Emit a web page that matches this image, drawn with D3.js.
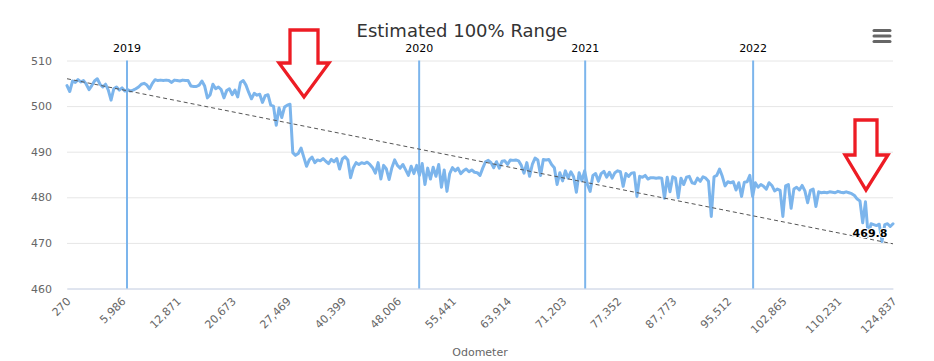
<!DOCTYPE html>
<html><head><meta charset="utf-8">
<script src="https://cdn.jsdelivr.net/npm/d3@7"></script>
<style>body{margin:0;background:#fff;} svg{display:block;overflow:hidden}</style>
</head><body><svg id="c" width="934" height="361"></svg>
<script>
const rangeValues = [
504.5,503.2,505.5,505.2,505.8,505.3,505.6,504.8,503.6,504.5,505.5,506,504.8,504.2,504.8,503.5,501.3,503.8,504.2,503.5,
504,503.3,503.6,503.3,503.5,503.8,504.2,504.8,505,504.6,503.8,505,505.8,505.6,505.7,505.6,505.7,505.6,505.2,505.7,
505.6,505.5,505.7,505.6,505.6,504.4,504.3,504.3,504.6,505.5,504.4,501.8,502.5,504.8,503.8,504.2,503.6,501.8,503.4,503.8,
502.5,503.5,502,505.2,505.6,504.6,503,501.6,502.8,502.4,502.6,500.8,502.3,502.5,500.2,500,495.8,499.6,497.5,499.8,
500.2,500.4,489.8,489.2,489.6,490.8,488.8,486.8,488.2,488.8,487.6,488.2,488,488.5,487.9,487.4,488.3,487.8,488.5,486.2,
488.4,488.9,488.2,484.3,486.5,487.6,487.2,487.6,487.4,487.7,487.2,486.5,485.3,487.6,484,487,486.2,483.9,486.5,488.2,
487,486.4,487.2,486,484.8,486.8,485.2,487,484.8,487.4,482.8,486.4,484,486.6,484.6,487.2,482.2,486,481.3,485.2,
486.5,485.8,486.4,485.2,485.8,486.2,485.6,486,485.5,485.4,484.8,486.4,487.8,488.1,487.6,486.5,487.8,486.4,487.9,488,
487.2,488.2,488.1,488.2,488,487,485.3,487.6,484.6,487.2,488.6,488.2,484.8,488.3,488.2,488.3,487.2,486.5,482.8,485.4,
483.6,485.8,484.2,485.6,484.5,481.1,485.4,483.6,485.8,482.8,481.3,484.8,485.2,483.5,485.2,485.7,484.4,485.5,484.2,485.4,
485.8,485.6,482.4,485.2,484.6,485.3,485.4,480.2,484.6,484.4,484.8,484,484.3,484.3,484.2,484.3,484.2,479.8,484.4,481.2,
484.5,484.2,479.9,484.2,482.8,484.4,484.6,483.2,483,484.2,483.5,484.5,484.2,483.5,475.8,484.5,484.8,486.2,484.6,482.5,
483.4,483.2,483.4,481.6,483.2,480.2,483.3,483.4,484.8,480.2,483.2,482.2,482.8,482.4,481.8,483.2,482.6,481.4,481.8,481.5,
475.8,482.5,482.8,477.6,481.8,482.2,481.6,482.6,481.4,478.8,481.5,481.8,478,481.2,481,481.1,481,481.2,481.1,481,
481.3,481.1,481,481.2,481,480.8,480.4,479.6,479.2,474.4,479,471.4,474.2,474,473.8,474.1,470.3,474,474.2,473.6,474.2
];
const trendValues = [506.0, 469.8];
const odometerLabels = ["270","5,986","12,871","20,673","27,469","40,399","48,006","55,441","63,914","71,203","77,352","87,773","95,512","102,865","110,231","124,837"];
const yearLabels = ["2019","2020","2021","2022"];
const yearIdx = [21.8, 127.9, 188.2, 249.2];
const yTicks = [460,470,480,490,500,510];
const titleText = "Estimated 100% Range";
const xTitle = "Odometer";

const FONT = "'DejaVu Sans', Verdana, sans-serif";
const svg = d3.select("#c").style("font-family", FONT);
const L = 67, R = 893, T = 60.5, B = 288.5;
const n = rangeValues.length;
const x = d3.scaleLinear().domain([0, n - 1]).range([L, R]);
const y = d3.scaleLinear().domain([460, 510]).range([B, T]);

// title
svg.append("text").attr("x", 462).attr("y", 37).attr("text-anchor", "middle")
  .attr("fill", "#333").attr("font-size", 18).text(titleText);

// y axis + grid
const ya = svg.append("g").attr("transform", `translate(${L},0)`)
  .call(d3.axisLeft(y).tickValues(yTicks).tickSize(-(R - L)).tickPadding(15).tickFormat(d3.format("d")));
ya.select(".domain").remove();
ya.selectAll(".tick line").attr("stroke", "#e6e6e6");
ya.selectAll(".tick text").attr("fill", "#666").attr("font-size", 11).attr("font-family", FONT);

// x axis
const tickIdx = odometerLabels.map((d, i) => i * 20);
const xa = svg.append("g").attr("transform", `translate(0,${B})`)
  .call(d3.axisBottom(x).tickValues(tickIdx).tickSize(0).tickFormat((d, i) => odometerLabels[i]));
xa.select(".domain").attr("stroke", "#ccd6eb");
xa.selectAll(".tick text").attr("fill", "#666").attr("font-size", 11).attr("font-family", FONT)
  .attr("text-anchor", "end").attr("x", 4).attr("y", 13.5).attr("dy", 0)
  .attr("transform", "rotate(-45,4,13.5)");
svg.append("text").attr("x", (L + R) / 2).attr("y", 356).attr("text-anchor", "middle")
  .attr("fill", "#666").attr("font-size", 11).text(xTitle);

// year plot lines
yearIdx.forEach((v, i) => {
  svg.append("line").attr("x1", x(v)).attr("x2", x(v)).attr("y1", T).attr("y2", B)
    .attr("stroke", "#7cb5ec").attr("stroke-width", 2);
  svg.append("text").attr("x", x(v)).attr("y", 52).attr("text-anchor", "middle")
    .attr("fill", "#000").attr("font-size", 11).text(yearLabels[i]);
});

// series
const line = d3.line().x((d, i) => x(i)).y(d => y(d));
svg.append("path").datum(rangeValues).attr("d", line).attr("fill", "none")
  .attr("stroke", "#7cb5ec").attr("stroke-width", 3).attr("stroke-linejoin", "round").attr("stroke-linecap", "round");

// trend
const trendIdx = [0, n - 1];
svg.append("path").datum(trendValues)
  .attr("d", d3.line().x((d, i) => x(trendIdx[i])).y(d => y(d)))
  .attr("fill", "none").attr("stroke", "#555").attr("stroke-width", 1).attr("stroke-dasharray", "4,3");
svg.append("text").attr("x", x(n - 1) - 23).attr("y", y(trendValues[1]) - 7)
  .attr("text-anchor", "middle").attr("font-size", 11).attr("font-weight", "bold")
  .attr("fill", "#000").attr("stroke", "#fff").attr("stroke-width", 2).attr("paint-order", "stroke")
  .text(d3.format(".1f")(trendValues[1]));

// menu icon
[30.5, 36, 41.5].forEach(yy => svg.append("line").attr("x1", 874).attr("x2", 890).attr("y1", yy).attr("y2", yy)
  .attr("stroke", "#666").attr("stroke-width", 3).attr("stroke-linecap", "round"));

// annotation arrows
const arrows = [
  [[290,30],[318,30],[318,63],[329,63],[304,97],[279,63],[290,63]],
  [[855,120],[877,120],[877,155],[888,155],[866,190],[845,155],[855,155]]
];
arrows.forEach(a => svg.append("path").attr("d", "M" + a.map(p => p.join(",")).join("L") + "Z")
  .attr("fill", "#fff").attr("stroke", "#ed1c24").attr("stroke-width", 3.3).attr("stroke-linejoin", "miter"));
</script></body></html>
